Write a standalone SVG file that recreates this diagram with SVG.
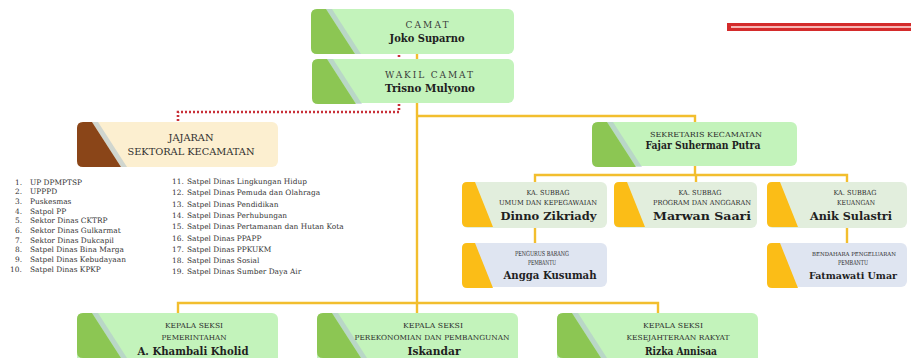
<svg xmlns="http://www.w3.org/2000/svg" xmlns:xlink="http://www.w3.org/1999/xlink" width="911" height="358" viewBox="0 0 911 358">
<style>
.bg{fill:#ffffff}
.gbox{fill:#c3f3bb}
.cbox{fill:#fcefd0}
.sbox{fill:#e2eedd}
.pbox{fill:#dfe5f1}
.gacc{fill:#8cc653}
.bacc{fill:#8a4518}
.yacc{fill:#fbbd17}
.band{fill:#b3c4cf;opacity:.6}
.yl{fill:none;stroke:#f2be2e;stroke-width:2.4}
.rd{fill:none;stroke:#c83038;stroke-width:2.6;stroke-dasharray:2 2}
.t{font-family:"DejaVu Serif","Liberation Serif",serif;fill:#2e2e2e;text-anchor:middle}
.cap{font-size:7px;fill:#2a2a2a}
.nm{font-size:11.5px;font-weight:bold;fill:#1f1f1f}
.hd{font-size:9px;fill:#3a3a3a}
.li{font-family:"DejaVu Serif","Liberation Serif",serif;font-size:7.4px;fill:#333}
</style>
<defs>
<path id="acc" d="M6,0 L15,0 L44,45 L6,45 Q0,45 0,39 L0,6 Q0,0 6,0 Z"/>
<path id="band" d="M15,0 L21,0 L50,45 L44,45 Z"/>
<path id="yac" d="M5,0 L13,0 L31,45 L5,45 Q0,45 0,40 L0,5 Q0,0 5,0 Z"/>
</defs>
<rect class="bg" width="911" height="358"/>

<g id="deco">
<rect x="727" y="23" width="184" height="8" fill="#d42b2b"/>
<rect x="731" y="26" width="180" height="2" fill="#f6b7b5"/>
</g>

<g id="connectors">
<path class="yl" d="M417,54 V313"/>
<path class="yl" d="M417,116 H695 V122"/>
<path class="yl" d="M695,166 V175"/>
<path class="yl" d="M535,182 V175 H847 V182"/>
<path class="yl" d="M696,175 V182"/>
<path class="yl" d="M535,228 V243"/>
<path class="yl" d="M847,228 V243"/>
<path class="yl" d="M178,313 V303 H658 V313"/>
<path class="rd" d="M399,55 V60"/>
<path class="rd" d="M399,104 V112 H178 V122"/>
</g>

<g id="camat" transform="translate(311,9)">
<rect class="gbox" width="203" height="45" rx="6"/>
<use xlink:href="#band" class="band"/>
<use xlink:href="#acc" class="gacc"/>
<text class="t hd" x="116" y="19" textLength="43" lengthAdjust="spacing">CAMAT</text>
<text class="t nm" x="116" y="33" textLength="75" lengthAdjust="spacingAndGlyphs">Joko Suparno</text>
</g>

<g id="wakil" transform="translate(312,59)">
<rect class="gbox" width="202" height="44" rx="6"/>
<use xlink:href="#band" class="band"/>
<use xlink:href="#acc" class="gacc"/>
<text class="t hd" x="117" y="19" textLength="88" lengthAdjust="spacing">WAKIL CAMAT</text>
<text class="t nm" x="118" y="33" textLength="90" lengthAdjust="spacingAndGlyphs">Trisno Mulyono</text>
</g>

<g id="jajaran" transform="translate(77,122)">
<rect class="cbox" width="201" height="45" rx="6"/>
<use xlink:href="#band" class="band"/>
<use xlink:href="#acc" class="bacc"/>
<text class="t" x="114" y="19" font-size="10" textLength="45" lengthAdjust="spacingAndGlyphs" fill="#2e2218">JAJARAN</text>
<text class="t" x="114" y="33" font-size="10" textLength="127" lengthAdjust="spacingAndGlyphs" fill="#2e2218">SEKTORAL KECAMATAN</text>
</g>

<g id="sekretaris" transform="translate(592,122)">
<rect class="gbox" width="205" height="44" rx="6"/>
<use xlink:href="#band" class="band"/>
<use xlink:href="#acc" class="gacc"/>
<text class="t cap" x="114" y="14.5" textLength="112" lengthAdjust="spacingAndGlyphs">SEKRETARIS KECAMATAN</text>
<text class="t nm" x="111" y="27" textLength="115" lengthAdjust="spacingAndGlyphs">Fajar Suherman Putra</text>
</g>

<g id="subbag-umum" transform="translate(462,182)">
<rect class="sbox" width="145" height="46" rx="6"/>
<use xlink:href="#yac" class="yacc"/>
<text class="t cap" x="86" y="13" textLength="43" lengthAdjust="spacingAndGlyphs">KA. SUBBAG</text>
<text class="t cap" x="86" y="22.5" textLength="98" lengthAdjust="spacingAndGlyphs">UMUM DAN KEPEGAWAIAN</text>
<text class="t nm" x="86.5" y="38" textLength="96" lengthAdjust="spacingAndGlyphs">Dinno Zikriady</text>
</g>

<g id="subbag-program" transform="translate(614,182)">
<rect class="sbox" width="143" height="46" rx="6"/>
<use xlink:href="#yac" class="yacc"/>
<text class="t cap" x="86" y="13" textLength="43" lengthAdjust="spacingAndGlyphs">KA. SUBBAG</text>
<text class="t cap" x="88" y="22.5" textLength="98" lengthAdjust="spacingAndGlyphs">PROGRAM DAN ANGGARAN</text>
<text class="t nm" x="88" y="38" textLength="98" lengthAdjust="spacingAndGlyphs">Marwan Saari</text>
</g>

<g id="subbag-keuangan" transform="translate(767,182)">
<rect class="sbox" width="140" height="46" rx="6"/>
<use xlink:href="#yac" class="yacc"/>
<text class="t cap" x="88" y="13" textLength="43" lengthAdjust="spacingAndGlyphs">KA. SUBBAG</text>
<text class="t cap" x="89" y="22.5" textLength="38" lengthAdjust="spacingAndGlyphs">KEUANGAN</text>
<text class="t nm" x="84" y="38" textLength="82" lengthAdjust="spacingAndGlyphs">Anik Sulastri</text>
</g>

<g id="pengurus" transform="translate(462,243)">
<rect class="pbox" width="145" height="44" rx="6"/>
<use xlink:href="#yac" class="yacc"/>
<text class="t cap" x="80" y="13" textLength="54" lengthAdjust="spacingAndGlyphs">PENGURUS BARANG</text>
<text class="t cap" x="80" y="21.5" textLength="28" lengthAdjust="spacingAndGlyphs">PEMBANTU</text>
<text class="t nm" x="88" y="36" textLength="93" lengthAdjust="spacingAndGlyphs">Angga Kusumah</text>
</g>

<g id="bendahara" transform="translate(767,243)">
<rect class="pbox" width="140" height="44" rx="6"/>
<use xlink:href="#yac" class="yacc"/>
<text class="t cap" x="87" y="13" style="font-size:5.4px">BENDAHARA PENGELUARAN</text>
<text class="t cap" x="86" y="21.5" textLength="30" lengthAdjust="spacingAndGlyphs">PEMBANTU</text>
<text class="t nm" x="86" y="36" style="font-size:9.5px">Fatmawati Umar</text>
</g>

<g id="kasi-pemerintahan" transform="translate(77,313)">
<rect class="gbox" width="201" height="52" rx="6"/>
<use xlink:href="#band" class="band"/>
<use xlink:href="#acc" class="gacc"/>
<text class="t cap" x="117" y="14.5" textLength="58" lengthAdjust="spacingAndGlyphs">KEPALA SEKSI</text>
<text class="t cap" x="117" y="26.5" textLength="65" lengthAdjust="spacingAndGlyphs">PEMERINTAHAN</text>
<text class="t nm" x="116" y="42" textLength="111" lengthAdjust="spacingAndGlyphs">A. Khambali Kholid</text>
</g>

<g id="kasi-ekbang" transform="translate(317,313)">
<rect class="gbox" width="201" height="52" rx="6"/>
<use xlink:href="#band" class="band"/>
<use xlink:href="#acc" class="gacc"/>
<text class="t cap" x="116" y="14.5" textLength="60" lengthAdjust="spacingAndGlyphs">KEPALA SEKSI</text>
<text class="t cap" x="115" y="26.5" textLength="155" lengthAdjust="spacingAndGlyphs">PEREKONOMIAN DAN PEMBANGUNAN</text>
<text class="t nm" x="117" y="42" textLength="53" lengthAdjust="spacingAndGlyphs">Iskandar</text>
</g>

<g id="kasi-kesra" transform="translate(557,313)">
<rect class="gbox" width="201" height="52" rx="6"/>
<use xlink:href="#band" class="band"/>
<use xlink:href="#acc" class="gacc"/>
<text class="t cap" x="116" y="14.5" textLength="60" lengthAdjust="spacingAndGlyphs">KEPALA SEKSI</text>
<text class="t cap" x="121" y="26.5" textLength="103" lengthAdjust="spacingAndGlyphs">KESEJAHTERAAN RAKYAT</text>
<text class="t nm" x="124" y="42" textLength="72" lengthAdjust="spacingAndGlyphs">Rizka Annisaa</text>
</g>

<g id="daftar-sektoral">
<text class="li" x="15" y="184.5">1.</text><text class="li" x="30" y="184.5">UP DPMPTSP</text>
<text class="li" x="15" y="194.2">2.</text><text class="li" x="30" y="194.2">UPPPD</text>
<text class="li" x="15" y="203.9">3.</text><text class="li" x="30" y="203.9">Puskesmas</text>
<text class="li" x="15" y="213.6">4.</text><text class="li" x="30" y="213.6">Satpol PP</text>
<text class="li" x="15" y="223.3">5.</text><text class="li" x="30" y="223.3">Sektor Dinas CKTRP</text>
<text class="li" x="15" y="233">6.</text><text class="li" x="30" y="233">Sektor Dinas Gulkarmat</text>
<text class="li" x="15" y="242.7">7.</text><text class="li" x="30" y="242.7">Sektor Dinas Dukcapil</text>
<text class="li" x="15" y="252.4">8.</text><text class="li" x="30" y="252.4">Satpel Dinas Bina Marga</text>
<text class="li" x="15" y="262.1">9.</text><text class="li" x="30" y="262.1">Satpel Dinas Kebudayaan</text>
<text class="li" x="10" y="271.8">10.</text><text class="li" x="30" y="271.8">Satpel Dinas KPKP</text>
<text class="li" x="172" y="184">11.</text><text class="li" x="187" y="184">Satpel Dinas Lingkungan Hidup</text>
<text class="li" x="172" y="195.3">12.</text><text class="li" x="187" y="195.3">Satpel Dinas Pemuda dan Olahraga</text>
<text class="li" x="172" y="206.6">13.</text><text class="li" x="187" y="206.6">Satpel Dinas Pendidikan</text>
<text class="li" x="172" y="217.9">14.</text><text class="li" x="187" y="217.9">Satpel Dinas Perhubungan</text>
<text class="li" x="172" y="229.2">15.</text><text class="li" x="187" y="229.2">Satpel Dinas Pertamanan dan Hutan Kota</text>
<text class="li" x="172" y="240.5">16.</text><text class="li" x="187" y="240.5">Satpel Dinas PPAPP</text>
<text class="li" x="172" y="251.8">17.</text><text class="li" x="187" y="251.8">Satpel Dinas PPKUKM</text>
<text class="li" x="172" y="263.1">18.</text><text class="li" x="187" y="263.1">Satpel Dinas Sosial</text>
<text class="li" x="172" y="274.4">19.</text><text class="li" x="187" y="274.4">Satpel Dinas Sumber Daya Air</text>
</g>
</svg>
